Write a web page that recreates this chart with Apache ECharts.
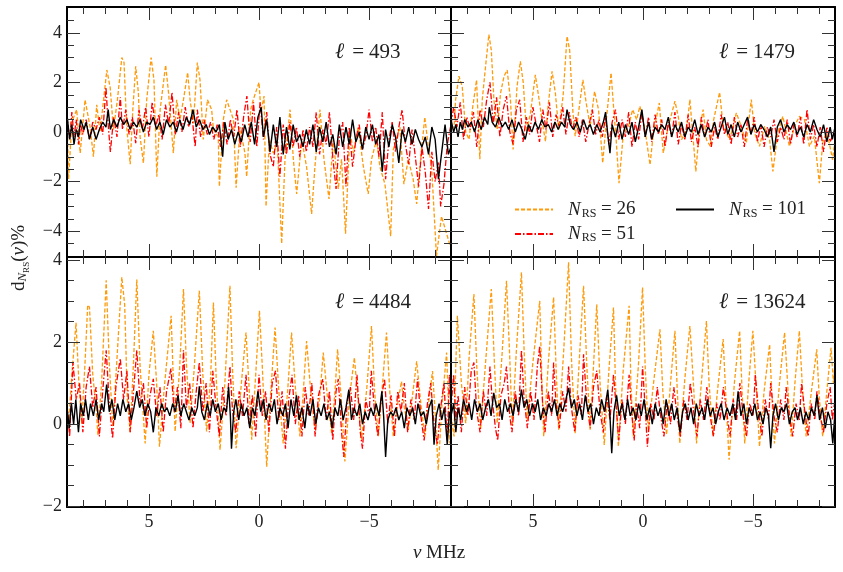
<!DOCTYPE html>
<html>
<head>
<meta charset="utf-8">
<title>d_NRS(nu)</title>
<script src="https://cdn.jsdelivr.net/npm/echarts@6.0.0/dist/echarts.min.js"></script>
<style>
  html, body { margin: 0; padding: 0; background: #fff; }
  #main { width: 843px; height: 572px; }
</style>
</head>
<body>
<div id="main"></div>
<script>
// [nu (MHz), d (%)], one array per panel and N_RS
var d493_26 = [[8.72,1.0],[8.65,-1.9],[8.5,0.4],[8.28,0.9],[8.12,-0.85],[7.9,1.3],[7.67,0.2],[7.52,-1.0],[7.37,1.1],[7.22,0.0],[6.91,2.5],[6.76,1.8],[6.61,0.1],[6.43,1.3],[6.23,3.0],[6.13,2.8],[6.01,0.2],[5.85,-1.3],[5.73,0.9],[5.6,2.65],[5.48,1.6],[5.4,-0.2],[5.25,-1.25],[5.1,1.3],[4.9,3.0],[4.77,2.1],[4.64,-1.8],[4.49,0.9],[4.24,2.7],[4.11,1.6],[3.89,-0.85],[3.74,1.3],[3.59,0.5],[3.43,1.3],[3.24,2.4],[3.13,1.3],[2.98,0.35],[2.8,2.8],[2.68,2.1],[2.53,-0.3],[2.34,1.3],[2.15,0.9],[2.07,0.1],[1.85,-0.2],[1.8,-2.2],[1.62,0.5],[1.47,1.3],[1.16,0.5],[1.04,-2.25],[0.86,0.2],[0.64,-0.85],[0.56,-1.8],[0.38,0.9],[0.26,1.3],[0.0,2.0],[-0.09,0.8],[-0.23,1.45],[-0.32,-3.0],[-0.47,-0.3],[-0.65,-0.85],[-0.83,-0.45],[-1.03,-4.5],[-1.18,-1.1],[-1.41,0.9],[-1.56,-1.1],[-1.71,-2.5],[-1.94,-0.3],[-2.16,-1.4],[-2.39,-3.3],[-2.54,-1.4],[-2.77,0.9],[-2.95,-1.1],[-3.18,-2.7],[-3.37,-0.3],[-3.6,-2.3],[-3.75,-1.1],[-3.93,-4.1],[-4.13,0.1],[-4.28,-0.85],[-4.51,0.2],[-4.74,-1.4],[-4.96,-2.5],[-5.11,-1.1],[-5.34,-0.3],[-5.49,-1.4],[-5.72,-2.1],[-5.98,-4.2],[-6.1,-0.7],[-6.4,0.2],[-6.58,-2.1],[-6.78,-1.1],[-7.0,-1.9],[-7.16,-2.9],[-7.34,-1.1],[-7.53,0.6],[-7.69,-0.6],[-7.84,-1.4],[-8.06,-5.0],[-8.29,-3.4],[-8.52,-4.1],[-8.72,-4.7]]
var d493_51 = [[8.72,0.6],[8.6,-0.3],[8.5,0.8],[8.4,-0.2],[8.3,0.5],[8.2,-0.5],[8.1,0.3],[8.0,-0.1],[7.85,0.5],[7.7,-0.3],[7.55,0.4],[7.4,0.1],[7.25,0.6],[7.1,-0.1],[6.95,1.8],[6.85,0.3],[6.75,-0.8],[6.6,0.6],[6.45,-0.2],[6.3,1.4],[6.2,0.1],[6.05,0.9],[5.9,-0.1],[5.75,0.6],[5.6,-0.45],[5.45,0.9],[5.3,0.1],[5.15,1.0],[5.0,-0.2],[4.85,1.2],[4.7,0.2],[4.55,0.7],[4.4,-0.3],[4.25,1.1],[4.1,0.3],[3.95,1.6],[3.8,-0.1],[3.65,0.8],[3.5,0.0],[3.35,1.0],[3.2,0.2],[3.05,0.7],[2.9,-0.6],[2.8,0.9],[2.65,-0.2],[2.5,0.5],[2.35,-0.1],[2.2,0.4],[2.05,-0.3],[1.9,0.3],[1.75,-0.6],[1.6,0.4],[1.45,-0.5],[1.3,0.5],[1.15,-0.2],[1.0,0.9],[0.85,-0.6],[0.7,0.6],[0.55,1.45],[0.4,-0.4],[0.25,1.2],[0.1,-0.6],[-0.05,1.2],[-0.2,-0.3],[-0.35,0.8],[-0.5,-0.9],[-0.65,-1.4],[-0.8,0.2],[-0.95,-1.8],[-1.1,0.3],[-1.25,-0.9],[-1.4,0.4],[-1.55,-0.6],[-1.7,0.2],[-1.85,-1.0],[-2.0,0.1],[-2.15,-0.8],[-2.3,0.2],[-2.45,-0.6],[-2.6,0.8],[-2.75,-0.9],[-2.9,0.1],[-3.05,-0.5],[-3.2,0.8],[-3.35,-1.0],[-3.5,-2.3],[-3.65,-0.2],[-3.8,0.4],[-3.95,-2.2],[-4.1,0.2],[-4.25,-1.4],[-4.4,-0.3],[-4.55,0.3],[-4.7,-0.7],[-4.85,-0.2],[-5.0,0.9],[-5.15,-0.4],[-5.3,0.2],[-5.45,-1.0],[-5.6,0.8],[-5.75,-1.9],[-5.9,-0.3],[-6.05,0.4],[-6.2,-0.8],[-6.35,0.2],[-6.5,0.9],[-6.65,-0.5],[-6.8,-1.3],[-6.95,0.1],[-7.1,-1.0],[-7.25,-2.2],[-7.4,-0.6],[-7.55,-1.6],[-7.7,-3.1],[-7.85,-0.8],[-8.0,-2.0],[-8.15,-1.2],[-8.25,-3.0],[-8.4,-2.1],[-8.55,-0.5],[-8.72,0.3]]
var d493_101 = [[8.72,0.7],[8.6,-0.3],[8.5,0.3],[8.4,-0.5],[8.3,0.1],[8.2,-0.2],[8.1,0.5],[7.95,0.1],[7.85,0.4],[7.7,-0.3],[7.55,0.2],[7.4,-0.3],[7.25,0.1],[7.1,0.4],[6.95,0.2],[6.85,0.9],[6.75,0.1],[6.6,0.5],[6.45,0.2],[6.3,0.6],[6.15,0.3],[6.0,0.5],[5.85,0.1],[5.7,0.4],[5.55,0.2],[5.4,0.5],[5.25,0.0],[5.1,0.4],[4.95,0.3],[4.8,0.6],[4.65,0.1],[4.5,0.4],[4.35,-0.1],[4.2,0.5],[4.05,0.2],[3.9,0.4],[3.75,0.0],[3.6,0.5],[3.45,0.1],[3.3,0.6],[3.15,0.3],[3.0,0.9],[2.85,0.2],[2.7,0.5],[2.55,0.1],[2.4,0.3],[2.25,-0.1],[2.1,0.2],[1.95,0.0],[1.8,0.3],[1.65,-1.0],[1.55,0.4],[1.4,-0.3],[1.25,0.1],[1.1,-0.5],[0.95,0.0],[0.8,-0.4],[0.65,0.3],[0.5,-0.2],[0.35,0.4],[0.2,-0.5],[0.05,0.6],[-0.1,1.0],[-0.2,-0.2],[-0.35,0.5],[-0.5,-0.8],[-0.65,0.3],[-0.8,-0.6],[-0.95,0.6],[-1.1,-0.9],[-1.25,0.2],[-1.4,-0.7],[-1.55,0.3],[-1.7,-0.4],[-1.85,-0.1],[-2.0,-0.6],[-2.15,0.1],[-2.3,-0.5],[-2.45,0.3],[-2.6,-0.8],[-2.75,0.2],[-2.9,-0.4],[-3.05,0.4],[-3.2,-0.6],[-3.35,-0.1],[-3.5,-0.9],[-3.65,0.3],[-3.8,-0.6],[-3.95,0.2],[-4.1,-0.5],[-4.25,0.5],[-4.4,-0.4],[-4.55,0.0],[-4.7,-0.7],[-4.85,0.2],[-5.0,-0.3],[-5.15,0.3],[-5.3,-0.5],[-5.45,-0.1],[-5.6,-1.6],[-5.75,0.1],[-5.9,-0.6],[-6.05,0.3],[-6.2,-0.2],[-6.35,-1.25],[-6.5,0.1],[-6.65,-0.4],[-6.8,0.2],[-6.95,-0.5],[-7.1,0.1],[-7.25,-0.3],[-7.4,-0.6],[-7.55,-0.2],[-7.7,-0.9],[-7.85,0.2],[-8.0,-0.3],[-8.15,-1.9],[-8.3,-0.8],[-8.45,0.3],[-8.6,-0.9],[-8.72,-0.6]]

var d1479_26 = [[8.72,0.1],[8.58,0.23],[8.51,1.3],[8.36,2.25],[8.21,1.84],[8.05,0.0],[7.9,-0.3],[7.75,0.9],[7.56,2.1],[7.41,-1.1],[7.3,1.3],[7.15,2.65],[7.0,3.93],[6.89,3.3],[6.77,1.3],[6.62,0.1],[6.47,1.57],[6.31,2.25],[6.17,2.5],[6.02,1.3],[5.9,-0.7],[5.72,1.84],[5.57,2.85],[5.44,2.0],[5.29,0.0],[5.11,0.77],[4.89,2.3],[4.74,1.44],[4.59,0.5],[4.43,-0.38],[4.33,0.9],[4.13,2.45],[3.98,1.57],[3.83,0.1],[3.63,1.44],[3.45,3.86],[3.33,3.3],[3.18,0.77],[3.08,-0.17],[2.93,0.77],[2.73,2.1],[2.58,1.17],[2.4,0.23],[2.2,1.64],[2.02,0.9],[1.83,-1.25],[1.65,0.63],[1.45,2.38],[1.34,1.04],[1.22,-0.3],[1.09,-2.06],[0.89,-0.04],[0.66,0.23],[0.47,0.9],[0.29,0.5],[0.14,1.04],[-0.09,0.09],[-0.32,-1.32],[-0.47,-0.04],[-0.74,1.17],[-0.92,-0.85],[-1.15,0.23],[-1.45,1.24],[-1.6,0.63],[-1.75,-0.31],[-1.98,0.09],[-2.13,1.31],[-2.4,-1.59],[-2.55,-0.04],[-2.73,0.9],[-2.88,-0.31],[-3.06,-0.58],[-3.21,0.5],[-3.48,1.6],[-3.64,0.23],[-3.94,-0.31],[-4.24,0.77],[-4.46,0.23],[-4.69,-0.44],[-4.92,1.31],[-5.07,-0.04],[-5.29,-0.58],[-5.52,0.23],[-5.75,-0.31],[-5.9,-1.59],[-6.12,-0.04],[-6.35,0.63],[-6.65,-0.58],[-6.88,0.23],[-7.1,0.63],[-7.33,0.5],[-7.56,-0.58],[-7.78,-0.17],[-8.01,-2.06],[-8.16,-0.44],[-8.31,-0.04],[-8.46,-0.44],[-8.61,-1.12],[-8.72,-0.3]]
var d1479_51 = [[8.72,0.3],[8.6,1.0],[8.45,0.2],[8.3,1.2],[8.15,-0.3],[8.0,0.6],[7.85,0.1],[7.7,0.8],[7.55,-0.6],[7.4,0.9],[7.25,0.2],[7.1,1.3],[6.95,2.0],[6.8,0.3],[6.65,1.4],[6.5,-0.2],[6.35,0.9],[6.2,1.45],[6.05,0.0],[5.9,-0.5],[5.75,0.9],[5.6,1.3],[5.45,-0.4],[5.3,0.6],[5.15,-0.1],[5.0,1.0],[4.85,0.3],[4.7,-0.4],[4.55,0.9],[4.4,0.1],[4.25,1.2],[4.1,-0.2],[3.95,0.7],[3.8,0.2],[3.65,1.0],[3.5,-0.1],[3.35,0.8],[3.2,0.1],[3.05,0.6],[2.9,-0.2],[2.75,0.5],[2.6,-0.4],[2.45,0.3],[2.3,0.9],[2.15,-0.1],[2.0,0.5],[1.85,-0.2],[1.7,0.6],[1.55,-0.5],[1.4,0.4],[1.25,0.9],[1.1,-0.3],[0.95,0.5],[0.8,-0.2],[0.65,0.8],[0.5,-0.6],[0.35,0.4],[0.2,-0.3],[0.05,0.8],[-0.1,-0.2],[-0.25,0.6],[-0.4,-0.4],[-0.55,0.7],[-0.7,-0.1],[-0.85,0.5],[-1.0,-0.6],[-1.15,0.4],[-1.3,-0.2],[-1.45,0.8],[-1.6,-0.5],[-1.75,0.3],[-1.9,-0.3],[-2.05,0.7],[-2.2,-0.4],[-2.35,0.2],[-2.5,-0.6],[-2.65,0.6],[-2.8,-0.2],[-2.95,0.5],[-3.1,-0.6],[-3.25,0.2],[-3.4,-0.3],[-3.55,0.7],[-3.7,-0.1],[-3.85,0.4],[-4.0,-0.5],[-4.15,0.6],[-4.3,-0.2],[-4.45,0.3],[-4.6,-0.6],[-4.75,0.5],[-4.9,-0.1],[-5.05,0.6],[-5.2,-0.4],[-5.35,0.3],[-5.5,-0.6],[-5.65,0.2],[-5.8,-0.2],[-5.95,0.5],[-6.1,-0.4],[-6.25,0.2],[-6.4,-0.3],[-6.55,0.5],[-6.7,-0.5],[-6.85,0.3],[-7.0,-0.2],[-7.15,0.6],[-7.3,-0.5],[-7.45,0.9],[-7.6,-0.3],[-7.75,0.3],[-7.9,-0.6],[-8.05,0.2],[-8.2,-0.8],[-8.35,0.2],[-8.5,-0.4],[-8.72,0.1]]
var d1479_101 = [[8.72,0.5],[8.6,0.0],[8.5,0.3],[8.4,-0.2],[8.3,0.4],[8.2,0.1],[8.1,0.5],[7.95,0.2],[7.8,0.4],[7.65,0.0],[7.5,0.5],[7.35,0.1],[7.2,0.6],[7.05,0.3],[6.98,1.0],[6.85,0.4],[6.7,0.2],[6.55,0.6],[6.4,0.2],[6.25,0.4],[6.1,0.1],[5.95,0.5],[5.8,0.0],[5.65,0.4],[5.5,0.1],[5.35,-0.3],[5.2,0.3],[5.05,0.0],[4.9,0.4],[4.75,0.1],[4.6,0.5],[4.45,0.2],[4.3,0.3],[4.15,0.0],[4.0,0.4],[3.85,0.1],[3.7,0.4],[3.55,0.2],[3.45,0.9],[3.3,0.3],[3.15,0.1],[3.0,0.4],[2.85,0.0],[2.7,0.5],[2.55,0.1],[2.4,0.3],[2.25,-0.1],[2.1,0.3],[1.95,0.0],[1.8,0.4],[1.7,0.8],[1.6,-0.1],[1.5,-0.85],[1.4,0.3],[1.25,-0.2],[1.1,0.4],[0.95,-0.3],[0.8,0.3],[0.65,-0.1],[0.5,0.4],[0.35,-0.4],[0.2,0.2],[0.05,0.9],[-0.1,-0.2],[-0.25,0.4],[-0.4,-0.3],[-0.55,0.2],[-0.7,0.0],[-0.85,0.3],[-1.0,0.1],[-1.15,0.6],[-1.3,-0.2],[-1.45,0.3],[-1.6,0.0],[-1.75,0.4],[-1.9,-0.2],[-2.05,0.2],[-2.2,0.0],[-2.35,0.5],[-2.5,-0.1],[-2.65,0.3],[-2.8,-0.2],[-2.95,0.2],[-3.1,0.0],[-3.25,0.4],[-3.4,-0.2],[-3.55,0.2],[-3.7,0.6],[-3.85,-0.1],[-4.0,0.3],[-4.15,-0.2],[-4.3,0.4],[-4.45,0.0],[-4.6,0.3],[-4.75,0.6],[-4.9,-0.1],[-5.05,0.3],[-5.2,0.0],[-5.35,0.3],[-5.5,0.1],[-5.65,-0.2],[-5.8,0.2],[-5.95,-0.8],[-6.1,0.2],[-6.25,0.5],[-6.4,0.0],[-6.55,0.3],[-6.7,0.1],[-6.85,0.4],[-7.0,-0.1],[-7.15,0.2],[-7.3,-0.2],[-7.45,0.3],[-7.6,0.0],[-7.75,0.5],[-7.9,0.1],[-8.05,-0.2],[-8.2,0.3],[-8.35,-0.4],[-8.5,0.2],[-8.6,-0.3],[-8.72,0.2]]

var d4484_26 = [[8.72,0.3],[8.65,0.0],[8.5,1.2],[8.31,2.47],[8.18,1.0],[8.05,0.0],[7.9,1.5],[7.78,2.9],[7.7,2.85],[7.55,1.2],[7.4,0.4],[7.32,-0.26],[7.15,1.0],[6.94,3.5],[6.8,1.5],[6.64,-0.06],[6.45,1.6],[6.23,3.58],[6.1,2.9],[5.98,0.6],[5.85,-0.2],[5.7,1.5],[5.55,3.52],[5.4,1.4],[5.17,-0.47],[5.0,1.2],[4.8,2.27],[4.65,1.0],[4.52,-0.55],[4.3,0.9],[3.99,2.64],[3.9,1.2],[3.81,-0.18],[3.6,1.4],[3.43,3.29],[3.3,1.5],[3.13,0.02],[2.95,1.3],[2.71,3.25],[2.55,1.2],[2.38,-0.18],[2.2,1.1],[2.07,2.96],[1.95,1.2],[1.77,-0.63],[1.55,1.0],[1.32,3.37],[1.2,1.3],[1.04,-0.59],[0.8,1.0],[0.59,2.23],[0.45,0.9],[0.33,-0.38],[0.15,1.2],[-0.02,2.76],[-0.15,1.4],[-0.35,-1.04],[-0.55,0.9],[-0.73,2.35],[-0.9,0.8],[-1.1,-0.47],[-1.3,0.8],[-1.48,2.23],[-1.65,0.9],[-1.86,-0.3],[-2.0,0.7],[-2.16,2.02],[-2.35,0.8],[-2.54,-0.14],[-2.75,0.6],[-2.92,1.74],[-3.1,0.7],[-3.3,-0.22],[-3.45,0.8],[-3.57,1.82],[-3.75,0.5],[-3.9,-0.91],[-4.1,0.6],[-4.33,1.62],[-4.5,0.6],[-4.66,-0.38],[-4.9,0.9],[-5.11,2.39],[-5.25,0.8],[-5.42,-0.3],[-5.6,0.9],[-5.79,2.23],[-5.95,0.7],[-6.1,-0.3],[-6.3,0.5],[-6.47,1.04],[-6.6,0.4],[-6.78,-0.14],[-6.95,0.6],[-7.16,1.53],[-7.35,0.5],[-7.53,-0.3],[-7.7,0.5],[-7.88,1.29],[-8.0,0.3],[-8.14,-1.12],[-8.3,0.4],[-8.52,1.74],[-8.67,-0.47],[-8.72,0.2]]
var d4484_51 = [[8.72,0.5],[8.6,-0.3],[8.45,1.5],[8.3,0.6],[8.15,1.0],[8.0,-0.2],[7.85,0.9],[7.7,1.4],[7.55,0.4],[7.4,0.9],[7.25,-0.3],[7.1,0.8],[6.94,1.8],[6.8,0.5],[6.65,-0.35],[6.5,0.9],[6.3,1.6],[6.15,0.6],[6.0,1.3],[5.85,-0.2],[5.7,0.8],[5.55,1.8],[5.4,0.5],[5.25,1.0],[5.1,-0.1],[4.95,0.7],[4.8,1.1],[4.65,0.2],[4.5,0.9],[4.35,-0.2],[4.2,0.8],[4.0,1.35],[3.85,0.3],[3.7,0.9],[3.55,-0.1],[3.43,1.8],[3.3,0.4],[3.15,1.0],[3.0,-0.1],[2.85,0.8],[2.71,1.5],[2.55,0.3],[2.4,1.0],[2.25,-0.2],[2.1,1.3],[1.95,0.4],[1.8,-0.3],[1.65,0.9],[1.5,0.2],[1.32,1.4],[1.2,0.3],[1.05,-0.2],[0.9,0.8],[0.75,0.2],[0.59,1.2],[0.45,0.0],[0.3,0.7],[0.15,-0.3],[0.0,1.2],[-0.15,0.2],[-0.3,0.8],[-0.45,-0.2],[-0.6,1.0],[-0.75,1.3],[-0.9,0.1],[-1.05,0.8],[-1.2,-0.6],[-1.35,0.6],[-1.5,1.2],[-1.65,0.0],[-1.8,0.7],[-1.95,-0.3],[-2.1,0.9],[-2.25,0.2],[-2.4,1.0],[-2.55,-0.3],[-2.7,0.7],[-2.9,1.1],[-3.05,0.1],[-3.2,0.8],[-3.35,-0.4],[-3.5,0.8],[-3.6,1.1],[-3.75,-0.2],[-3.85,-0.8],[-4.0,0.5],[-4.15,0.9],[-4.3,0.1],[-4.45,1.2],[-4.6,-0.2],[-4.7,-0.6],[-4.85,0.6],[-5.0,0.2],[-5.1,1.3],[-5.25,0.3],[-5.4,-0.3],[-5.55,0.6],[-5.7,1.1],[-5.85,0.0],[-6.0,0.7],[-6.15,-0.3],[-6.3,0.8],[-6.45,0.3],[-6.6,1.0],[-6.75,-0.2],[-6.9,0.6],[-7.05,0.1],[-7.2,1.1],[-7.35,0.2],[-7.5,-0.4],[-7.65,0.5],[-7.8,1.0],[-7.95,0.0],[-8.1,-0.5],[-8.25,0.4],[-8.4,1.0],[-8.55,-0.4],[-8.65,1.2],[-8.72,0.3]]
var d4484_101 = [[8.72,0.4],[8.62,-0.1],[8.52,0.5],[8.42,0.0],[8.32,0.6],[8.2,-0.2],[8.1,0.5],[7.98,0.2],[7.88,0.6],[7.75,0.1],[7.65,0.5],[7.52,0.2],[7.4,0.6],[7.28,0.1],[7.15,0.5],[7.05,0.3],[6.92,0.96],[6.8,0.3],[6.68,0.6],[6.55,0.1],[6.42,0.5],[6.3,0.2],[6.18,0.6],[6.05,0.3],[5.92,0.5],[5.8,0.1],[5.68,0.4],[5.55,0.8],[5.42,0.4],[5.3,0.6],[5.18,0.2],[5.05,0.5],[4.92,0.3],[4.8,-0.2],[4.68,0.4],[4.55,0.2],[4.42,0.5],[4.3,0.3],[4.18,0.4],[4.05,0.2],[3.92,0.5],[3.8,0.3],[3.68,0.7],[3.55,0.2],[3.42,0.5],[3.3,0.3],[3.18,0.1],[3.05,0.4],[2.92,0.2],[2.8,0.4],[2.71,0.92],[2.6,0.3],[2.48,0.1],[2.35,0.5],[2.22,0.2],[2.1,0.6],[1.98,0.3],[1.85,0.5],[1.72,0.1],[1.6,0.4],[1.48,0.3],[1.38,0.9],[1.3,0.2],[1.25,-0.6],[1.15,0.3],[1.05,0.6],[0.92,0.1],[0.8,0.5],[0.68,0.2],[0.55,0.4],[0.42,-0.1],[0.3,0.4],[0.18,0.2],[0.05,0.8],[-0.08,0.3],[-0.2,0.6],[-0.32,0.1],[-0.45,0.5],[-0.58,0.3],[-0.7,0.6],[-0.82,0.0],[-0.95,0.4],[-1.08,0.2],[-1.2,0.5],[-1.32,-0.1],[-1.45,0.6],[-1.58,0.2],[-1.7,0.7],[-1.82,0.1],[-1.95,0.4],[-2.08,-0.1],[-2.2,0.5],[-2.32,0.2],[-2.45,0.6],[-2.58,0.0],[-2.7,0.4],[-2.82,0.2],[-2.95,0.5],[-3.08,0.1],[-3.2,0.3],[-3.32,-0.1],[-3.45,0.4],[-3.58,0.2],[-3.7,0.6],[-3.82,0.1],[-3.95,0.4],[-4.08,0.84],[-4.2,0.1],[-4.32,0.4],[-4.45,0.2],[-4.58,0.5],[-4.7,0.0],[-4.82,0.3],[-4.95,0.1],[-5.08,0.4],[-5.2,0.2],[-5.32,0.5],[-5.45,0.2],[-5.58,0.8],[-5.66,0.2],[-5.75,-0.8],[-5.85,0.1],[-5.98,0.3],[-6.1,0.2],[-6.22,0.4],[-6.35,0.1],[-6.48,0.3],[-6.6,-0.1],[-6.72,0.4],[-6.85,0.2],[-6.98,0.4],[-7.1,0.0],[-7.22,0.5],[-7.35,0.2],[-7.48,0.3],[-7.6,0.0],[-7.72,0.4],[-7.85,0.6],[-7.95,-0.5],[-8.05,0.2],[-8.18,0.5],[-8.3,0.1],[-8.42,0.4],[-8.55,-0.5],[-8.65,0.3],[-8.72,0.1]]

var d13624_26 = [[8.72,0.2],[8.58,-0.3],[8.5,1.5],[8.43,2.64],[8.25,1.0],[8.05,0.02],[7.9,1.6],[7.68,3.17],[7.55,1.4],[7.38,-0.14],[7.15,1.5],[6.89,3.29],[6.75,1.5],[6.62,0.02],[6.4,1.7],[6.2,3.49],[6.05,1.6],[5.94,-0.06],[5.75,1.8],[5.52,3.7],[5.4,1.8],[5.26,0.11],[5.0,1.5],[4.69,3.0],[4.6,1.2],[4.51,-0.3],[4.3,1.5],[4.06,3.09],[3.95,1.4],[3.83,-0.14],[3.6,1.8],[3.38,3.94],[3.25,1.6],[3.08,-0.22],[2.9,1.5],[2.7,3.37],[2.55,1.4],[2.4,-0.14],[2.25,1.4],[2.1,2.92],[1.95,1.0],[1.76,-0.51],[1.55,1.3],[1.34,2.84],[1.25,1.0],[1.12,-0.55],[0.9,1.3],[0.63,2.88],[0.55,1.0],[0.44,-0.3],[0.2,1.5],[0.02,3.33],[-0.1,1.4],[-0.24,-0.18],[-0.5,1.1],[-0.77,2.31],[-0.9,0.8],[-1.07,-0.26],[-1.25,1.0],[-1.45,2.27],[-1.55,0.9],[-1.67,-0.47],[-1.9,1.1],[-2.13,2.39],[-2.3,0.9],[-2.43,-0.47],[-2.65,1.0],[-2.88,2.51],[-3.0,1.0],[-3.18,-0.3],[-3.4,0.9],[-3.64,2.07],[-3.75,0.8],[-3.91,-0.87],[-4.15,1.0],[-4.39,2.27],[-4.5,0.8],[-4.62,-0.47],[-4.8,1.0],[-4.99,2.27],[-5.15,0.8],[-5.29,-0.55],[-5.5,0.8],[-5.75,1.94],[-5.85,0.7],[-5.97,-0.47],[-6.2,1.0],[-6.43,2.23],[-6.6,0.7],[-6.73,-0.3],[-6.9,1.0],[-7.1,2.27],[-7.25,0.8],[-7.41,-0.3],[-7.65,0.8],[-7.89,1.82],[-8.0,0.7],[-8.16,-0.3],[-8.35,0.8],[-8.54,1.86],[-8.65,1.0],[-8.72,1.5]]
var d13624_51 = [[8.72,0.4],[8.6,1.2],[8.5,0.1],[8.4,0.7],[8.25,-0.2],[8.1,0.9],[7.95,0.2],[7.8,1.3],[7.68,1.5],[7.55,0.3],[7.4,-0.2],[7.25,0.8],[7.1,0.2],[6.95,1.4],[6.85,0.6],[6.7,-0.1],[6.6,-0.4],[6.45,0.7],[6.3,1.0],[6.2,1.4],[6.05,0.2],[5.95,-0.2],[5.8,0.8],[5.65,0.2],[5.52,1.8],[5.4,0.6],[5.25,-0.1],[5.1,0.8],[4.95,0.1],[4.8,1.4],[4.69,1.9],[4.55,0.4],[4.45,-0.2],[4.3,0.8],[4.15,0.2],[4.06,1.5],[3.95,0.5],[3.8,-0.1],[3.65,0.8],[3.5,0.3],[3.38,1.4],[3.25,0.4],[3.1,-0.2],[2.95,0.7],[2.8,0.2],[2.7,1.7],[2.55,0.5],[2.4,-0.1],[2.25,0.9],[2.1,1.3],[1.95,0.3],[1.8,-0.2],[1.65,0.7],[1.5,0.1],[1.34,1.2],[1.2,0.3],[1.1,-0.4],[0.95,0.6],[0.8,0.0],[0.63,1.2],[0.5,0.2],[0.4,-0.4],[0.3,0.5],[0.15,-0.1],[0.02,1.4],[-0.1,0.4],[-0.2,-0.55],[-0.35,0.5],[-0.5,0.1],[-0.65,0.9],[-0.8,0.2],[-0.95,-0.3],[-1.1,0.5],[-1.25,0.0],[-1.4,0.9],[-1.55,0.2],[-1.7,-0.3],[-1.85,0.6],[-2.0,0.1],[-2.15,1.0],[-2.3,0.3],[-2.45,-0.3],[-2.6,0.6],[-2.75,0.1],[-2.9,0.9],[-3.05,0.2],[-3.2,-0.3],[-3.35,0.5],[-3.5,0.1],[-3.65,0.9],[-3.8,0.3],[-3.95,-0.3],[-4.1,0.6],[-4.25,0.1],[-4.4,1.0],[-4.55,0.2],[-4.7,-0.3],[-4.85,0.5],[-5.0,0.2],[-5.1,1.2],[-5.25,0.3],[-5.4,-0.3],[-5.55,0.6],[-5.7,0.1],[-5.8,1.0],[-5.95,0.2],[-6.1,-0.2],[-6.25,0.6],[-6.4,0.1],[-6.5,0.9],[-6.65,0.2],[-6.8,-0.3],[-6.95,0.5],[-7.1,0.1],[-7.2,1.0],[-7.35,0.3],[-7.5,-0.3],[-7.65,0.5],[-7.8,0.1],[-7.9,0.8],[-8.05,0.2],[-8.2,-0.2],[-8.35,0.5],[-8.5,0.9],[-8.6,0.1],[-8.72,0.6]]
var d13624_101 = [[8.72,0.2],[8.6,0.5],[8.5,-0.2],[8.4,0.4],[8.28,0.1],[8.15,0.6],[8.02,0.3],[7.9,0.5],[7.78,0.1],[7.65,0.6],[7.52,0.3],[7.4,0.5],[7.28,0.1],[7.15,0.4],[7.02,0.6],[6.9,0.2],[6.78,0.76],[6.65,0.4],[6.52,0.5],[6.4,0.1],[6.28,0.6],[6.15,0.3],[6.02,0.5],[5.9,0.2],[5.78,0.6],[5.65,0.3],[5.52,0.84],[5.4,0.4],[5.28,0.6],[5.15,0.2],[5.02,0.5],[4.9,0.3],[4.78,0.6],[4.65,0.1],[4.52,0.4],[4.4,0.2],[4.28,0.5],[4.15,0.3],[4.02,0.6],[3.9,0.2],[3.78,0.5],[3.65,0.3],[3.5,0.6],[3.38,0.88],[3.25,0.4],[3.12,0.6],[3.0,0.2],[2.88,0.5],[2.75,0.1],[2.62,0.7],[2.5,0.3],[2.38,0.5],[2.25,0.0],[2.12,0.4],[2.0,0.2],[1.88,0.6],[1.75,0.3],[1.6,0.84],[1.5,0.2],[1.42,-0.71],[1.32,0.3],[1.2,0.7],[1.08,0.2],[0.95,0.5],[0.82,0.1],[0.7,0.6],[0.58,0.2],[0.45,0.4],[0.32,0.1],[0.2,0.5],[0.08,0.2],[-0.05,0.6],[-0.18,0.1],[-0.3,0.4],[-0.42,0.0],[-0.55,0.5],[-0.68,0.2],[-0.8,0.4],[-0.92,0.0],[-1.05,0.6],[-1.18,0.2],[-1.3,0.5],[-1.42,0.1],[-1.55,0.4],[-1.68,-0.2],[-1.8,0.3],[-1.92,0.5],[-2.05,0.1],[-2.18,0.4],[-2.3,0.0],[-2.42,0.5],[-2.55,0.2],[-2.68,0.4],[-2.8,0.1],[-2.92,0.6],[-3.05,0.2],[-3.18,0.4],[-3.3,0.0],[-3.42,0.3],[-3.55,0.5],[-3.68,0.1],[-3.82,0.4],[-3.95,0.2],[-4.08,0.5],[-4.2,0.1],[-4.32,0.8],[-4.45,0.2],[-4.58,0.5],[-4.7,0.0],[-4.82,0.4],[-4.95,0.2],[-5.08,0.5],[-5.2,0.1],[-5.32,0.3],[-5.45,0.0],[-5.58,0.4],[-5.7,0.2],[-5.8,-0.59],[-5.9,0.2],[-6.02,0.5],[-6.15,0.1],[-6.28,0.4],[-6.4,0.3],[-6.52,0.5],[-6.65,0.0],[-6.78,0.3],[-6.9,0.4],[-7.02,0.1],[-7.15,0.4],[-7.28,0.0],[-7.4,0.3],[-7.52,0.1],[-7.65,0.4],[-7.78,0.2],[-7.9,0.7],[-8.02,0.1],[-8.15,0.4],[-8.28,-0.1],[-8.4,0.3],[-8.52,0.1],[-8.62,-0.47],[-8.72,0.3]]

var ELL = [493, 1479, 4484, 13624]
var N_RS = [26, 51, 101]
var X_MAJOR = [-5, 0, 5]
var X_MINOR = [-8, -7, -6, -5, -4, -3, -2, -1, 0, 1, 2, 3, 4, 5, 6, 7, 8]
var Y_TOP_MAJOR = [-4, -2, 0, 2, 4]
var Y_TOP_MINOR = [-4.5, -4, -3.5, -3, -2.5, -2, -1.5, -1, -0.5, 0, 0.5, 1, 1.5, 2, 2.5, 3, 3.5, 4, 4.5]
var Y_BOT_MAJOR = [-2, 0, 2, 4]
var Y_BOT_MINOR = [-1.5, -1, -0.5, 0, 0.5, 1, 1.5, 2, 2.5, 3, 3.5, 4]

var PANELS = [
  [d493_26, d493_51, d493_101],
  [d1479_26, d1479_51, d1479_101],
  [d4484_26, d4484_51, d4484_101],
  [d13624_26, d13624_51, d13624_101]
]

var FONT = 'Liberation Serif'
var TXT = '#222'
var X_EXT = 8.72
var Y_EXT = [[-5.04, 5.04], [-2.02, 4.07]]
var GRID_LEFT = [67, 451]
var GRID_TOP = [7, 257]
var COLORS = ['#ff9a0a', '#ff0000', '#000000']
var DASH = [[4, 2], [6, 2, 1.5, 2], 'solid']
var WIDTH = [1.3, 1.3, 1.4]

function fmt(v) {
  return v < 0 ? '\u2212' + (-v) : String(v)
}

function makeAxis(dim, g, pos, range, ticks, len, line, labels) {
  var ax = {
    type: 'value', gridIndex: g, position: pos,
    min: range[0], max: range[1], z: 5,
    axisLine: { show: line, onZero: false, lineStyle: { color: '#000', width: 2 } },
    axisTick: { show: true, inside: true, length: len, customValues: ticks, lineStyle: { color: '#333', width: 1 } },
    axisLabel: { show: false },
    splitLine: { show: false }
  }
  if (dim === 'x') ax.inverse = true
  if (labels) {
    ax.axisLabel = {
      show: true, customValues: labels, formatter: fmt,
      margin: dim === 'x' ? 6 : 5,
      color: TXT, fontFamily: FONT, fontSize: 18
    }
  }
  return ax
}

var grids = [], xAxes = [], yAxes = [], series = [], graphics = []

PANELS.forEach(function (panel, g) {
  var row = Math.floor(g / 2), col = g % 2
  var yr = Y_EXT[row]
  var yMaj = row === 0 ? Y_TOP_MAJOR : Y_BOT_MAJOR
  var yMin = row === 0 ? Y_TOP_MINOR : Y_BOT_MINOR
  var xr = [-X_EXT, X_EXT]
  grids.push({ left: GRID_LEFT[col], top: GRID_TOP[row], width: 384, height: 250, outerBoundsMode: 'none' })

  xAxes.push(makeAxis('x', g, 'bottom', xr, X_MAJOR, 13, true, row === 1 ? X_MAJOR : null))
  xAxes.push(makeAxis('x', g, 'bottom', xr, X_MINOR, 7, false, null))
  xAxes.push(makeAxis('x', g, 'top', xr, X_MAJOR, 13, true, null))
  xAxes.push(makeAxis('x', g, 'top', xr, X_MINOR, 7, false, null))
  yAxes.push(makeAxis('y', g, 'left', yr, yMaj, 13, true, col === 0 ? yMaj : null))
  yAxes.push(makeAxis('y', g, 'left', yr, yMin, 7, false, null))
  yAxes.push(makeAxis('y', g, 'right', yr, yMaj, 13, true, null))
  yAxes.push(makeAxis('y', g, 'right', yr, yMin, 7, false, null))

  panel.forEach(function (data, k) {
    series.push({
      type: 'line',
      name: 'N' + N_RS[k],
      xAxisIndex: 4 * g,
      yAxisIndex: 4 * g,
      data: data,
      symbol: 'none',
      showSymbol: false,
      color: COLORS[k],
      lineStyle: { color: COLORS[k], width: WIDTH[k], type: DASH[k] },
      z: 2 + k
    })
  })

  // panel tag, e.g. "l = 493"
  graphics.push({
    type: 'text',
    x: GRID_LEFT[col] + 268,
    y: GRID_TOP[row] + 45,
    style: {
      text: '{l|\u2113}{e|=}{n|' + ELL[g] + '}',
      align: 'left',
      verticalAlign: 'middle',
      fill: TXT,
      rich: {
        l: { fontFamily: FONT, fontStyle: 'italic', fontSize: 22, fill: TXT },
        e: { fontFamily: FONT, fontSize: 21, fill: TXT, padding: [0, 5, 0, 8] },
        n: { fontFamily: FONT, fontSize: 21, fill: TXT }
      }
    }
  })
})

var legendRich = {
  i: { fontFamily: FONT, fontStyle: 'italic', fontSize: 19, color: TXT, padding: [0, 0, 0, 10] },
  s: { fontFamily: FONT, fontSize: 12, color: TXT, padding: [8, 0, 0, 1] },
  t: { fontFamily: FONT, fontSize: 19, color: TXT }
}
function legendFmt(name) {
  return '{i|N}{s|RS}{t| = ' + name.slice(1) + '}'
}
function legendBox(names, left) {
  return {
    data: names, orient: 'vertical', left: left, top: 195,
    itemWidth: 38, itemHeight: 12, itemGap: 5,
    selectedMode: false, formatter: legendFmt,
    itemStyle: { opacity: 0 },
    textStyle: { rich: legendRich }
  }
}

graphics.push({
  type: 'text',
  x: 19, y: 258,
  rotation: Math.PI / 2,
  style: {
    text: '{d|d}{n|N}{r|RS}{p|(}{v|\u03bd}{p|)%}',
    align: 'center',
    verticalAlign: 'middle',
    fill: TXT,
    rich: {
      d: { fontFamily: FONT, fontSize: 19, fill: TXT },
      n: { fontFamily: FONT, fontStyle: 'italic', fontSize: 13, fill: TXT, padding: [8, 0, 0, 0] },
      r: { fontFamily: FONT, fontSize: 9, fill: TXT, padding: [15, 0, 0, 0] },
      p: { fontFamily: FONT, fontSize: 19, fill: TXT },
      v: { fontFamily: FONT, fontStyle: 'italic', fontSize: 19, fill: TXT }
    }
  }
})
graphics.push({
  type: 'text',
  x: 439, y: 553,
  style: {
    text: '{v|\u03bd} MHz',
    align: 'center',
    verticalAlign: 'middle',
    font: '19px "' + FONT + '"',
    fill: TXT,
    rich: {
      v: { fontFamily: FONT, fontStyle: 'italic', fontSize: 19, fill: TXT }
    }
  }
})

var myChart = echarts.init(document.getElementById('main'), null, { renderer: 'canvas' })
myChart.setOption({
  animation: false,
  backgroundColor: '#fff',
  grid: grids,
  xAxis: xAxes,
  yAxis: yAxes,
  legend: [legendBox(['N26', 'N51'], 509), legendBox(['N101'], 670)],
  series: series,
  graphic: graphics
})
</script>
</body>
</html>
